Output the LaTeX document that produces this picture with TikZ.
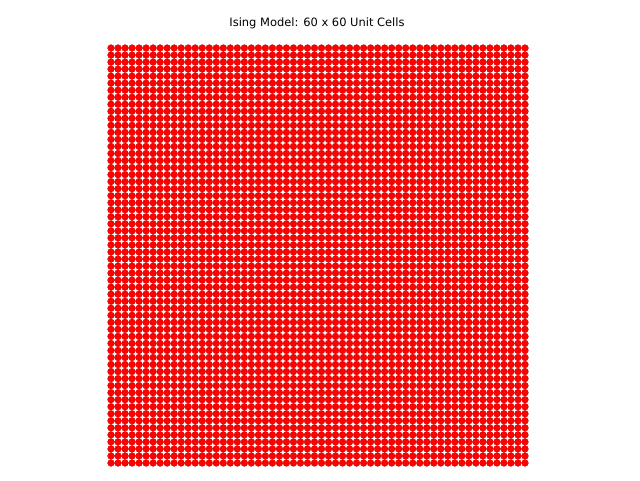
\documentclass[tikz,border=0pt]{standalone}
\usepackage{fontspec}
\setmainfont{DejaVu Sans}
\begin{document}
\begin{tikzpicture}[x=0.75pt,y=-0.75pt,
  spin/.style={fill=red,draw=red!75!black,line width=0.15pt},
  titletext/.style={font=\fontsize{8.6pt}{10pt}\selectfont,text=black,inner sep=0pt}]
\useasboundingbox (0,0) rectangle (640,480);
\fill[white] (0,0) rectangle (640,480);
\node[titletext] (title) at (317,23) {Ising Model: 60 x 60 Unit Cells};
\foreach \i in {0,...,59}{
  \foreach \j in {0,...,59}{
    \path[spin] ({111+\i*7.017},{48+\j*7.034}) circle (3.45);
  }
}
\end{tikzpicture}
\end{document}
